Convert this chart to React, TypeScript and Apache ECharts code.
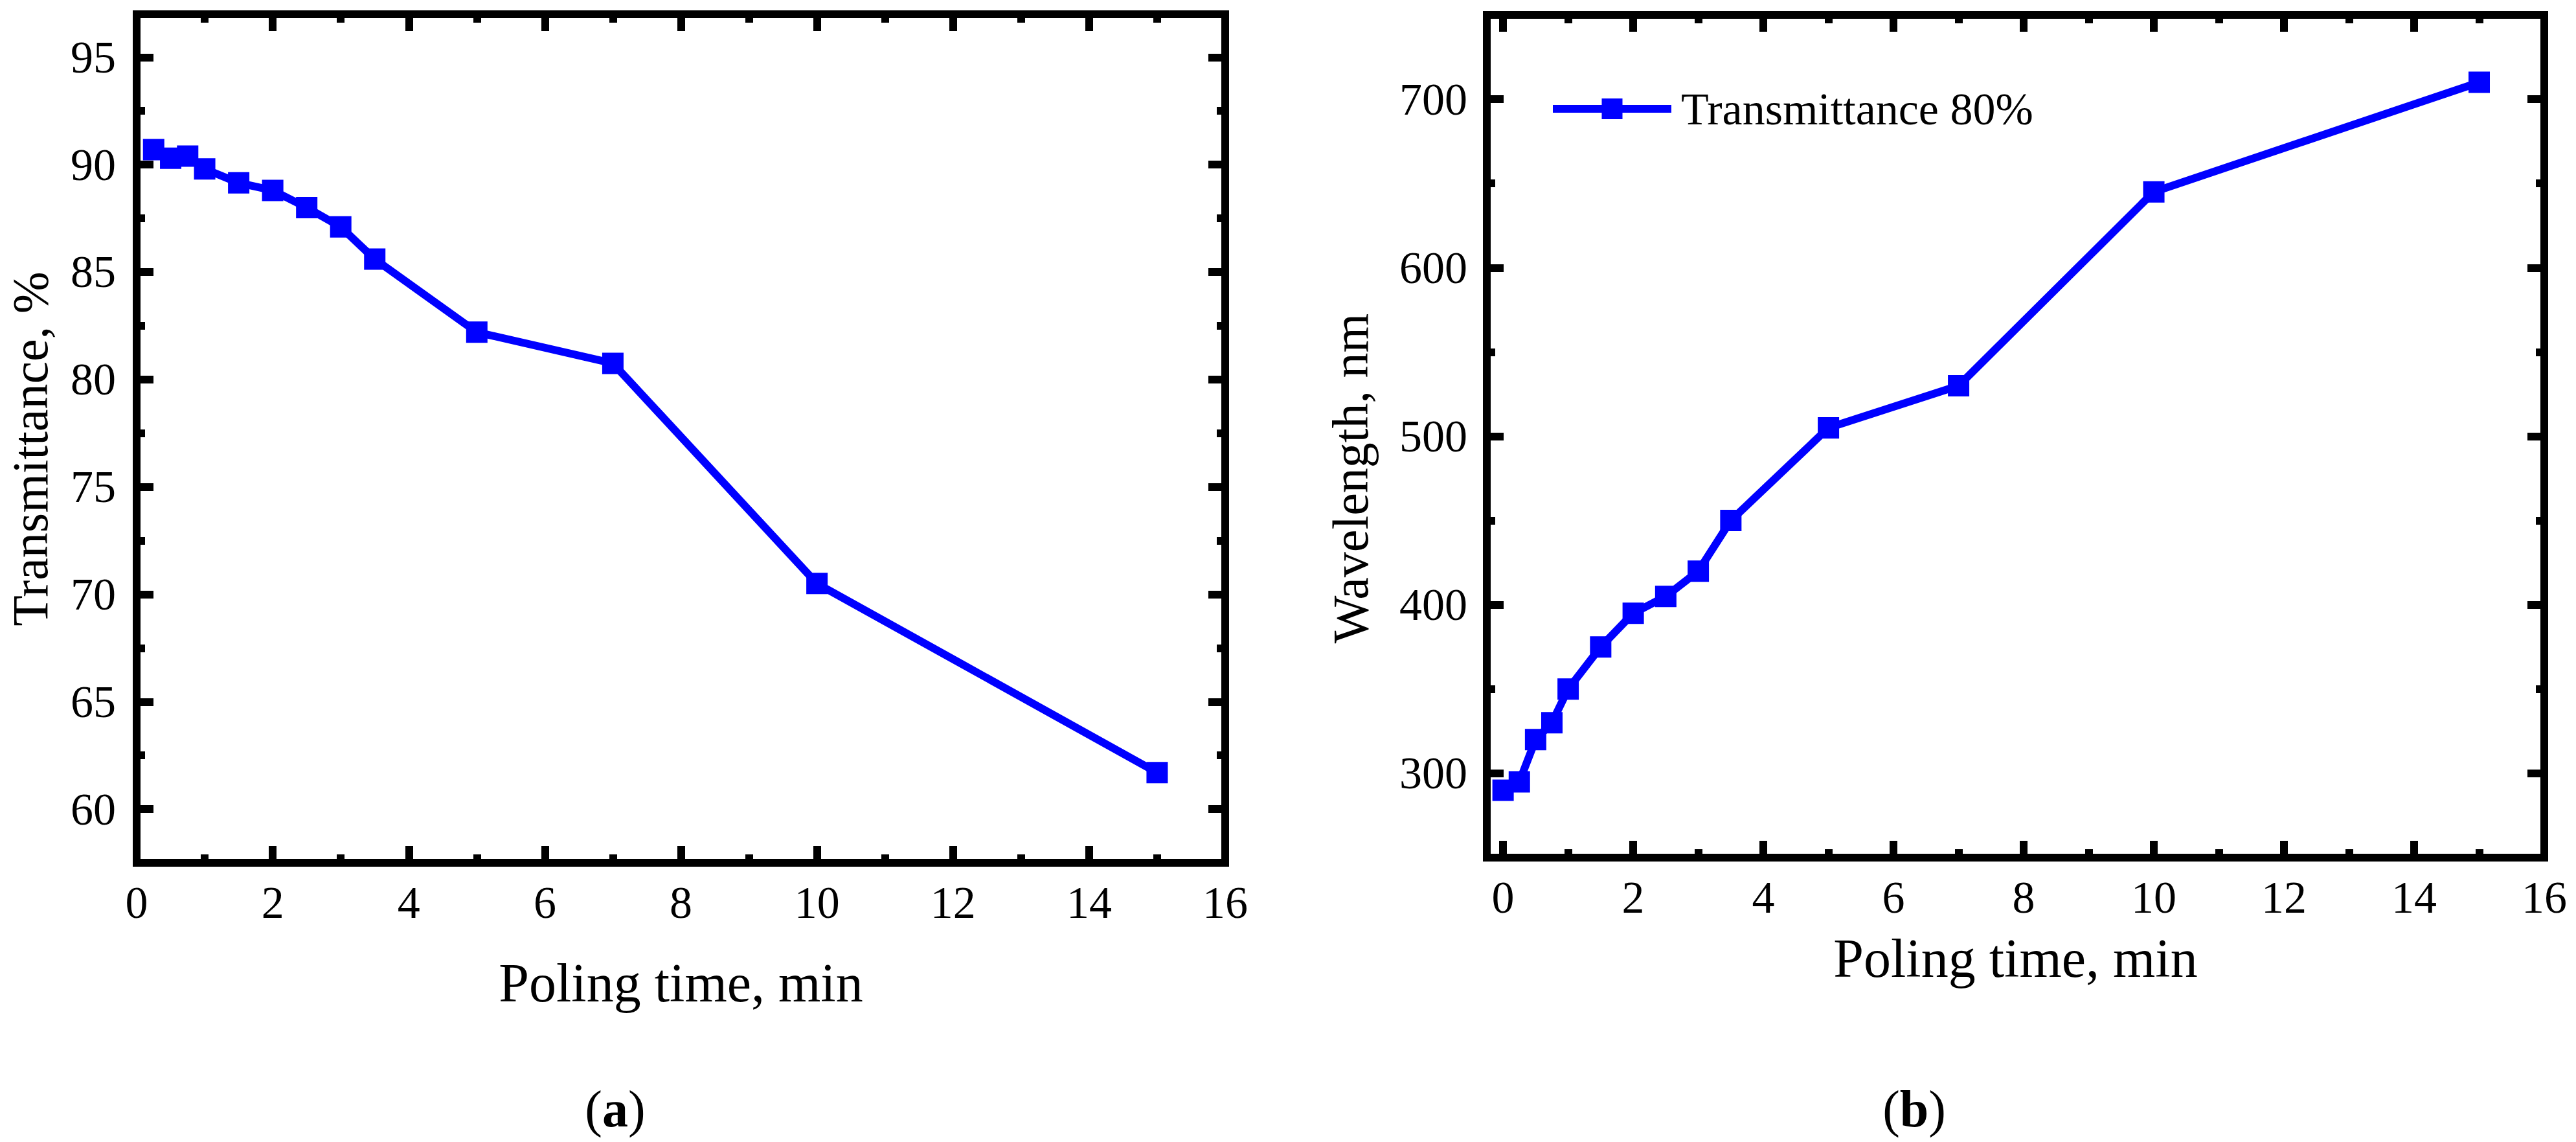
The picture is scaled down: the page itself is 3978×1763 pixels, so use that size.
import React, { useEffect, useRef } from "react";
import * as echarts from "echarts";

// ---- data ----
const timeA = [0.25, 0.5, 0.75, 1, 1.5, 2, 2.5, 3, 3.5, 5, 7, 10, 15];
const transmittance = [90.7, 90.3, 90.4, 89.8, 89.15, 88.8, 88.0, 87.1, 85.6, 82.2, 80.75, 70.5, 61.7];

const timeB = [0, 0.25, 0.5, 0.75, 1, 1.5, 2, 2.5, 3, 3.5, 5, 7, 10, 15];
const wavelength = [290, 295, 320, 330, 350, 375, 395, 405, 420, 450, 505, 530, 645, 710];

const xMajor = [0, 2, 4, 6, 8, 10, 12, 14, 16];
const xMinor = [1, 3, 5, 7, 9, 11, 13, 15];
const yMajorA = [60, 65, 70, 75, 80, 85, 90, 95];
const yMinorA = [62.5, 67.5, 72.5, 77.5, 82.5, 87.5, 92.5];
const yMajorB = [300, 400, 500, 600, 700];
const yMinorB = [350, 450, 550, 650];

const FONT = "'Liberation Serif', 'Times New Roman', serif";
const BLUE = "#0000ff";

function makeAxes(
  dim: "x" | "y",
  gridIndex: number,
  min: number,
  max: number,
  major: number[],
  minor: number[],
  labelMargin: number,
  name: string,
  nameGap: number,
  namePadding: number[]
) {
  const posMain = dim === "x" ? "bottom" : "left";
  const posMirror = dim === "x" ? "top" : "right";
  const base = (position: string, ticks: number[], len: number, labels: boolean) => ({
    type: "value",
    gridIndex,
    position,
    min,
    max,
    axisLine: { show: false, onZero: false },
    splitLine: { show: false },
    axisTick: {
      show: true,
      inside: true,
      length: len,
      customValues: ticks,
      lineStyle: { color: "#000", width: 12 },
    },
    axisLabel: labels
      ? {
          show: true,
          customValues: ticks,
          margin: labelMargin,
          fontFamily: FONT,
          fontSize: 70,
          color: "#000",
        }
      : { show: false },
  });
  const mainMajor: any = base(posMain, major, 26, true);
  mainMajor.name = name;
  mainMajor.nameLocation = "middle";
  mainMajor.nameGap = nameGap;
  mainMajor.nameTextStyle = {
    fontFamily: FONT,
    fontSize: dim === "x" ? 84 : 78,
    color: "#000",
    padding: namePadding,
  };
  if (dim === "y") mainMajor.nameRotate = 90;
  return [
    mainMajor,
    base(posMain, minor, 13, false),
    base(posMirror, major, 26, false),
    base(posMirror, minor, 13, false),
  ];
}

export default function App() {
  const ref = useRef<HTMLDivElement>(null);
  useEffect(() => {
    if (!ref.current) return;
    const chart = echarts.init(ref.current, null, { renderer: "svg" });
    const option: any = {
      animation: false,
      backgroundColor: "#fff",
      grid: [
        {
          left: 211,
          top: 22,
          width: 1681,
          height: 1310,
          show: true,
          borderColor: "#000",
          borderWidth: 12,
          backgroundColor: "transparent",
        },
        {
          left: 2296,
          top: 23,
          width: 1633,
          height: 1301,
          show: true,
          borderColor: "#000",
          borderWidth: 12,
          backgroundColor: "transparent",
        },
      ],
      xAxis: [
        ...makeAxes("x", 0, 0, 16, xMajor, xMinor, 26, "Poling time, min", 143, [0, 0, 0, 0]),
        ...makeAxes("x", 1, -0.25, 16, xMajor, xMinor, 26, "Poling time, min", 113, [0, 0, 0, 0]),
      ],
      yAxis: [
        ...makeAxes("y", 0, 57.5, 97, yMajorA, yMinorA, 32, "Transmittance, %", 126, [0, 32, 0, 0]),
        ...makeAxes("y", 1, 250, 750, yMajorB, yMinorB, 30, "Wavelength, nm", 172, [0, 130, 0, 0]),
      ],
      legend: {
        show: true,
        data: ["Transmittance 80%"],
        left: 2392,
        top: 133,
        padding: 0,
        itemWidth: 183,
        itemHeight: 40,
        lineStyle: { width: 12, color: BLUE },
        textStyle: { fontFamily: FONT, fontSize: 70, color: "#000", padding: [0, 0, 0, 10] },
      },
      series: [
        {
          name: "Transmittance",
          type: "line",
          xAxisIndex: 0,
          yAxisIndex: 0,
          data: timeA.map((t, i) => [t, transmittance[i]]),
          symbol: "rect",
          symbolSize: 33,
          lineStyle: { color: BLUE, width: 12 },
          itemStyle: { color: BLUE },
          z: 3,
        },
        {
          name: "Transmittance 80%",
          type: "line",
          xAxisIndex: 4,
          yAxisIndex: 4,
          data: timeB.map((t, i) => [t, wavelength[i]]),
          symbol: "rect",
          symbolSize: 33,
          lineStyle: { color: BLUE, width: 12 },
          itemStyle: { color: BLUE },
          z: 3,
        },
      ],
      graphic: [
        {
          type: "text",
          x: 950,
          y: 1712,
          style: {
            text: "{n|(}{b|a}{n|)}",
            textAlign: "center",
            textVerticalAlign: "middle",
            rich: {
              n: { fontFamily: FONT, fontSize: 80, fill: "#000" },
              b: { fontFamily: FONT, fontSize: 80, fontWeight: "bold", fill: "#000" },
            },
          },
        },
        {
          type: "text",
          x: 2956,
          y: 1712,
          style: {
            text: "{n|(}{b|b}{n|)}",
            textAlign: "center",
            textVerticalAlign: "middle",
            rich: {
              n: { fontFamily: FONT, fontSize: 80, fill: "#000" },
              b: { fontFamily: FONT, fontSize: 80, fontWeight: "bold", fill: "#000" },
            },
          },
        },
      ],
    };
    chart.setOption(option);
    return () => chart.dispose();
  }, []);
  return (
    <div
      ref={ref}
      style={{ position: "fixed", left: 0, top: 0, width: 3978, height: 1763, background: "#fff" }}
    />
  );
}
